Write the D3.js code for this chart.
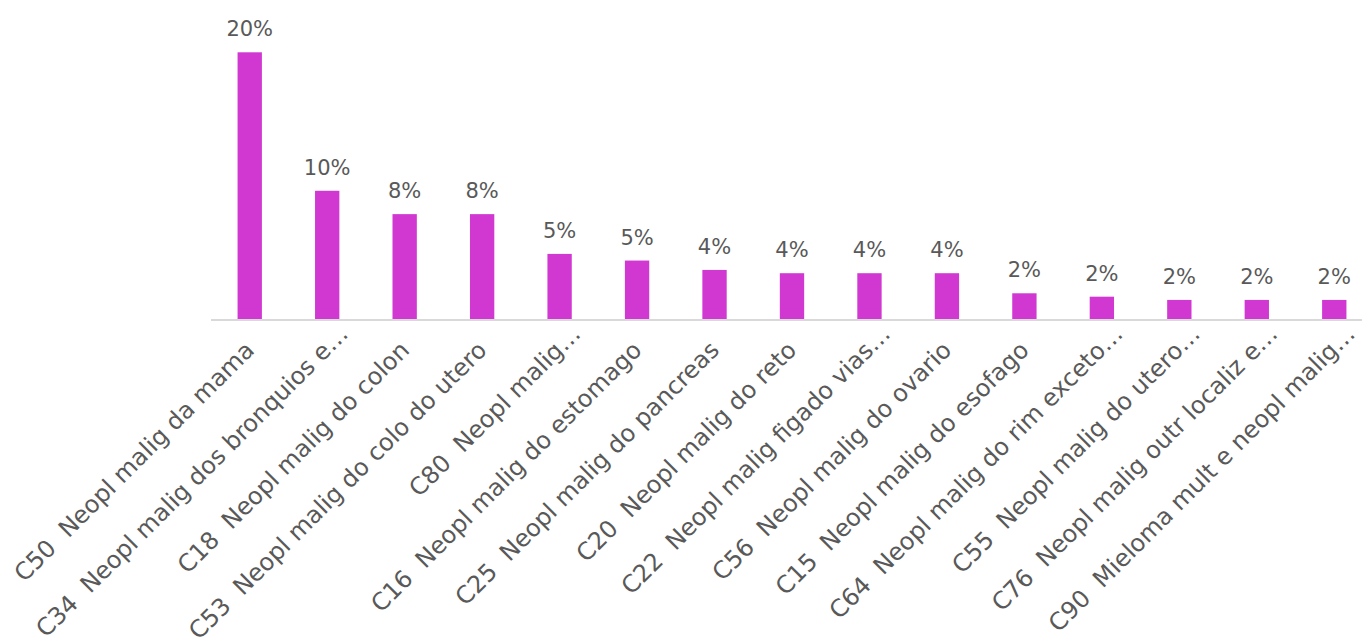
<!DOCTYPE html>
<html>
<head>
<meta charset="utf-8">
<script src="https://cdn.jsdelivr.net/npm/d3@7"></script>
<style>
  html, body { margin: 0; padding: 0; background: #ffffff; }
  svg { display: block; }
</style>
</head>
<body>
<svg id="chart" width="1362" height="637"></svg>
<script>
const categories = [
  "C50  Neopl malig da mama",
  "C34  Neopl malig dos bronquios e…",
  "C18  Neopl malig do colon",
  "C53  Neopl malig do colo do utero",
  "C80  Neopl malig…",
  "C16  Neopl malig do estomago",
  "C25  Neopl malig do pancreas",
  "C20  Neopl malig do reto",
  "C22  Neopl malig figado vias…",
  "C56  Neopl malig do ovario",
  "C15  Neopl malig do esofago",
  "C64  Neopl malig do rim exceto…",
  "C55  Neopl malig do utero…",
  "C76  Neopl malig outr localiz e…",
  "C90  Mieloma mult e neopl malig…"
];
const shares = [0.2049, 0.0987, 0.0808, 0.0808, 0.0503, 0.0452, 0.0380, 0.0355, 0.0355, 0.0355, 0.0201, 0.0175, 0.0150, 0.0150, 0.0150];

const barColor = "#D137D1";
const textColor = "#595959";
const fontFamily = "'DejaVu Sans', sans-serif";

const svg = d3.select("#chart");
const baseY = 319.5;

const x = d3.scaleBand()
  .domain(categories)
  .range([211, 1373])
  .paddingInner(0.686)
  .paddingOuter(0.343);

const y = d3.scaleLinear()
  .domain([0, 0.2049])
  .range([baseY, 52.3]);

const data = categories.map((c, i) => ({ cat: c, v: shares[i] }));

svg.append("g").selectAll("rect")
  .data(data)
  .join("rect")
  .attr("x", d => x(d.cat))
  .attr("y", d => y(d.v))
  .attr("width", x.bandwidth())
  .attr("height", d => y(0) - y(d.v))
  .attr("fill", barColor);

// axis line
svg.append("line")
  .attr("x1", x.range()[0]).attr("x2", x.range()[1])
  .attr("y1", baseY + 0.5).attr("y2", baseY + 0.5)
  .attr("stroke", "#D9D9D9")
  .attr("stroke-width", 2);

// value labels
const fmt = d3.format(".0%");
svg.append("g").selectAll("text")
  .data(data)
  .join("text")
  .attr("x", d => x(d.cat) + x.bandwidth() / 2)
  .attr("y", d => y(d.v) - 16)
  .attr("text-anchor", "middle")
  .attr("fill", textColor)
  .style("font-family", fontFamily)
  .style("font-size", "21px")
  .text(d => fmt(d.v));

// category labels (truncated labels run a bit further along the baseline)
svg.append("g").selectAll("text")
  .data(data)
  .join("text")
  .attr("transform", d => `translate(${x(d.cat) + x.bandwidth() / 2 + 6},${baseY + 32}) rotate(-45)`)
  .attr("x", d => d.cat.endsWith("…") ? 23 : 0)
  .attr("text-anchor", "end")
  .attr("fill", textColor)
  .style("font-family", fontFamily)
  .style("font-size", "24px")
  .style("white-space", "pre")
  .attr("xml:space", "preserve")
  .text(d => d.cat);
</script>
</body>
</html>
